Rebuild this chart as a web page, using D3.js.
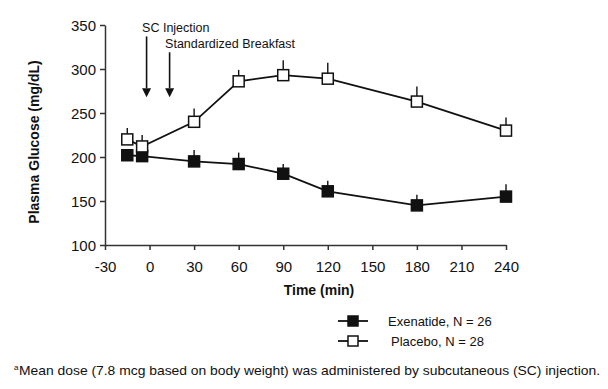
<!DOCTYPE html>
<html>
<head>
<meta charset="utf-8">
<script src="https://cdn.jsdelivr.net/npm/d3@7"></script>
<style>
  body { margin: 0; background: #fff; }
  svg { display: block; }
  text { font-family: "Liberation Sans", Arial, sans-serif; fill: #111; }
</style>
</head>
<body>
<div id="chart"></div>
<script>
// Data
const times = [-15, -5, 30, 60, 90, 120, 180, 240];
const exenatide = [202, 201, 195, 192, 181, 161, 145, 155];
const exenatideErr = [208, 207, 208, 205, 192, 173, 157, 169];
const placebo = [220, 212, 240, 286, 293, 289, 263, 230];
const placeboErr = [233, 225, 255, 299, 310, 307, 280, 245];

const xTicks = [-30, 0, 30, 60, 90, 120, 150, 180, 210, 240];
const yTicks = [100, 150, 200, 250, 300, 350];

// annotations: time of arrow, top of arrow (mg/dL)
const events = [
  { label: "SC Injection", time: -2, top: 337 },
  { label: "Standardized Breakfast", time: 13.5, top: 319 }
];
const arrowEnd = 268;

const legendItems = [
  { name: "Exenatide, N = 26", fill: "#111" },
  { name: "Placebo, N = 28", fill: "#fff" }
];

const W = 608, H = 389;
const svg = d3.select("#chart").append("svg")
  .attr("width", W)
  .attr("height", H);

const x = d3.scaleLinear().domain([-30, 240]).range([105, 506]);
const y = d3.scaleLinear().domain([100, 350]).range([245, 25]);

// axes
const xAxis = svg.append("g")
  .attr("transform", "translate(0," + y(100) + ")")
  .call(d3.axisBottom(x).tickValues(xTicks).tickFormat(d => String(d))
    .tickSize(5).tickSizeOuter(0).tickPadding(11));
const yAxis = svg.append("g")
  .attr("transform", "translate(" + x(-30) + ",0)")
  .call(d3.axisLeft(y).tickValues(yTicks).tickSize(5).tickSizeOuter(0).tickPadding(4));

[xAxis, yAxis].forEach(a => {
  a.select(".domain").attr("stroke", "#333").attr("stroke-width", 1.5);
  a.selectAll(".tick line").attr("stroke", "#333").attr("stroke-width", 1.5);
  a.selectAll(".tick text")
    .attr("font-size", 15)
    .attr("font-family", "Liberation Sans, Arial, sans-serif")
    .attr("fill", "#222");
});
yAxis.selectAll(".tick text").attr("dy", "0.36em");

// axis titles
svg.append("text")
  .attr("transform", "translate(39," + 142 + ") rotate(-90)")
  .attr("text-anchor", "middle")
  .attr("font-size", 14)
  .attr("font-weight", "bold")
  .text("Plasma Glucose (mg/dL)");

svg.append("text")
  .attr("x", 319)
  .attr("y", 295)
  .attr("text-anchor", "middle")
  .attr("font-size", 14)
  .attr("font-weight", "bold")
  .text("Time (min)");

// arrows for events
events.forEach((e, i) => {
  svg.append("line")
    .attr("x1", x(e.time)).attr("x2", x(e.time))
    .attr("y1", y(e.top)).attr("y2", y(arrowEnd) - 9)
    .attr("stroke", "#111").attr("stroke-width", 1.6);
  svg.append("path")
    .attr("d", "M" + (x(e.time) - 4.5) + "," + (y(arrowEnd) - 9) +
      "L" + (x(e.time) + 4.5) + "," + (y(arrowEnd) - 9) +
      "L" + x(e.time) + "," + y(arrowEnd) + "Z")
    .attr("fill", "#111");
  svg.append("text")
    .attr("x", x(e.time) - 4.5)
    .attr("y", y(e.top) - 4)
    .attr("font-size", 12.5)
    .text(e.label);
});

// series
const line = d3.line().x(d => x(d[0])).y(d => y(d[1]));
const sz = 11;

function drawSeries(vals, errs, fill) {
  const pts = times.map((t, i) => [t, vals[i], errs[i]]);
  svg.append("g").selectAll("line")
    .data(pts).enter().append("line")
    .attr("x1", d => x(d[0])).attr("x2", d => x(d[0]))
    .attr("y1", d => y(d[1])).attr("y2", d => y(d[2]))
    .attr("stroke", "#111").attr("stroke-width", 1.4);
  svg.append("path")
    .attr("d", line(pts))
    .attr("fill", "none")
    .attr("stroke", "#111")
    .attr("stroke-width", 1.8);
  svg.append("g").selectAll("rect")
    .data(pts).enter().append("rect")
    .attr("x", d => x(d[0]) - sz / 2)
    .attr("y", d => y(d[1]) - sz / 2)
    .attr("width", sz).attr("height", sz)
    .attr("fill", fill)
    .attr("stroke", "#111")
    .attr("stroke-width", 1.5);
}
drawSeries(exenatide, exenatideErr, "#111");
drawSeries(placebo, placeboErr, "#fff");

// legend
const legend = svg.append("g");
legendItems.forEach((d, i) => {
  const ly = 321 + i * 20;
  legend.append("line")
    .attr("x1", 338).attr("x2", 368)
    .attr("y1", ly).attr("y2", ly)
    .attr("stroke", "#111").attr("stroke-width", 1.8);
  legend.append("rect")
    .attr("x", 353 - 5).attr("y", ly - 5)
    .attr("width", 10).attr("height", 10)
    .attr("fill", d.fill).attr("stroke", "#111").attr("stroke-width", 1.5);
  legend.append("text")
    .attr("x", 388 + i * 3)
    .attr("y", ly + 4.5)
    .attr("font-size", 13)
    .text(d.name);
});

// footnote
svg.append("text")
  .attr("x", 14)
  .attr("y", 370)
  .attr("font-size", 8)
  .text("a");
svg.append("text")
  .attr("x", 19)
  .attr("y", 375)
  .attr("font-size", 13)
  .attr("textLength", 581)
  .attr("lengthAdjust", "spacingAndGlyphs")
  .text("Mean dose (7.8 mcg based on body weight) was administered by subcutaneous (SC) injection.");
</script>
</body>
</html>
